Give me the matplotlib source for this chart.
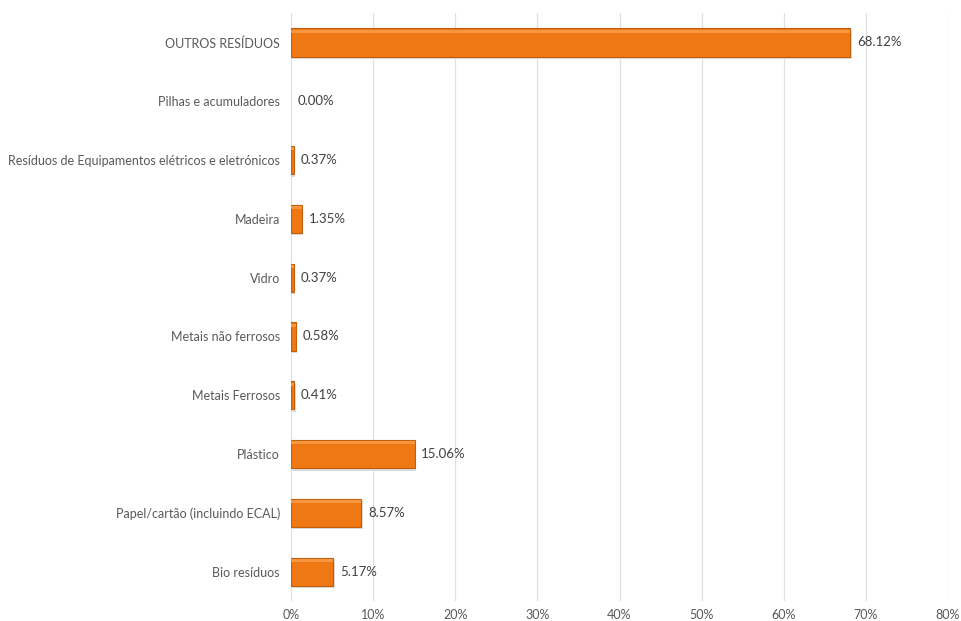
import matplotlib.pyplot as plt
from matplotlib.ticker import PercentFormatter

# Composição dos resíduos (percentagem do total)
categorias = [
    'Bio resíduos',
    'Papel/cartão (incluindo ECAL)',
    'Plástico',
    'Metais Ferrosos',
    'Metais não ferrosos',
    'Vidro',
    'Madeira',
    'Resíduos de Equipamentos elétricos e eletrónicos',
    'Pilhas e acumuladores',
    'OUTROS RESÍDUOS',
]
valores = [5.17, 8.57, 15.06, 0.41, 0.58, 0.37, 1.35, 0.37, 0.00, 68.12]
ticks_x = [0, 10, 20, 30, 40, 50, 60, 70, 80]

plt.rcParams['font.family'] = ['Lato', 'DejaVu Sans']

fig = plt.figure(figsize=(9.61, 6.21), dpi=100)
ax = fig.add_axes([0.3028, 0.032, 0.6837, 0.947])

y = list(range(len(categorias)))
com_valor = [i for i in y if valores[i] > 0]
v_pos = [valores[i] for i in com_valor]

# sombra, barra e reflexo superior
ax.barh([i - 0.04 for i in com_valor], [v + 0.15 for v in v_pos], height=0.48,
        color='#dcdcdc', zorder=2)
ax.barh(com_valor, v_pos, height=0.48, color='#F07814', edgecolor='#C0600F',
        linewidth=0.8, zorder=3)
ax.barh([i + 0.19 for i in com_valor], v_pos, height=0.05, color='#F6963F',
        linewidth=0, zorder=4)

for i, v in enumerate(valores):
    ax.text(v + 0.8, i, f'{v:.2f}%', va='center', ha='left',
            fontsize=9.5, color='#404040', zorder=5)

ax.set_xlim(0, 80)
ax.set_ylim(-0.5, len(categorias) - 0.5)
ax.set_xticks(ticks_x)
ax.xaxis.set_major_formatter(PercentFormatter(decimals=0))
ax.set_yticks(y)
ax.set_yticklabels(categorias)
ax.tick_params(axis='both', length=0, labelsize=9, colors='#595959')
ax.tick_params(axis='y', pad=8)
ax.tick_params(axis='x', pad=6)
ax.grid(axis='x', color='#e0e0e0', linewidth=0.9, zorder=0)
ax.set_axisbelow(True)
for s in ax.spines.values():
    s.set_visible(False)

fig.savefig('out.png', dpi=100, facecolor='white')
